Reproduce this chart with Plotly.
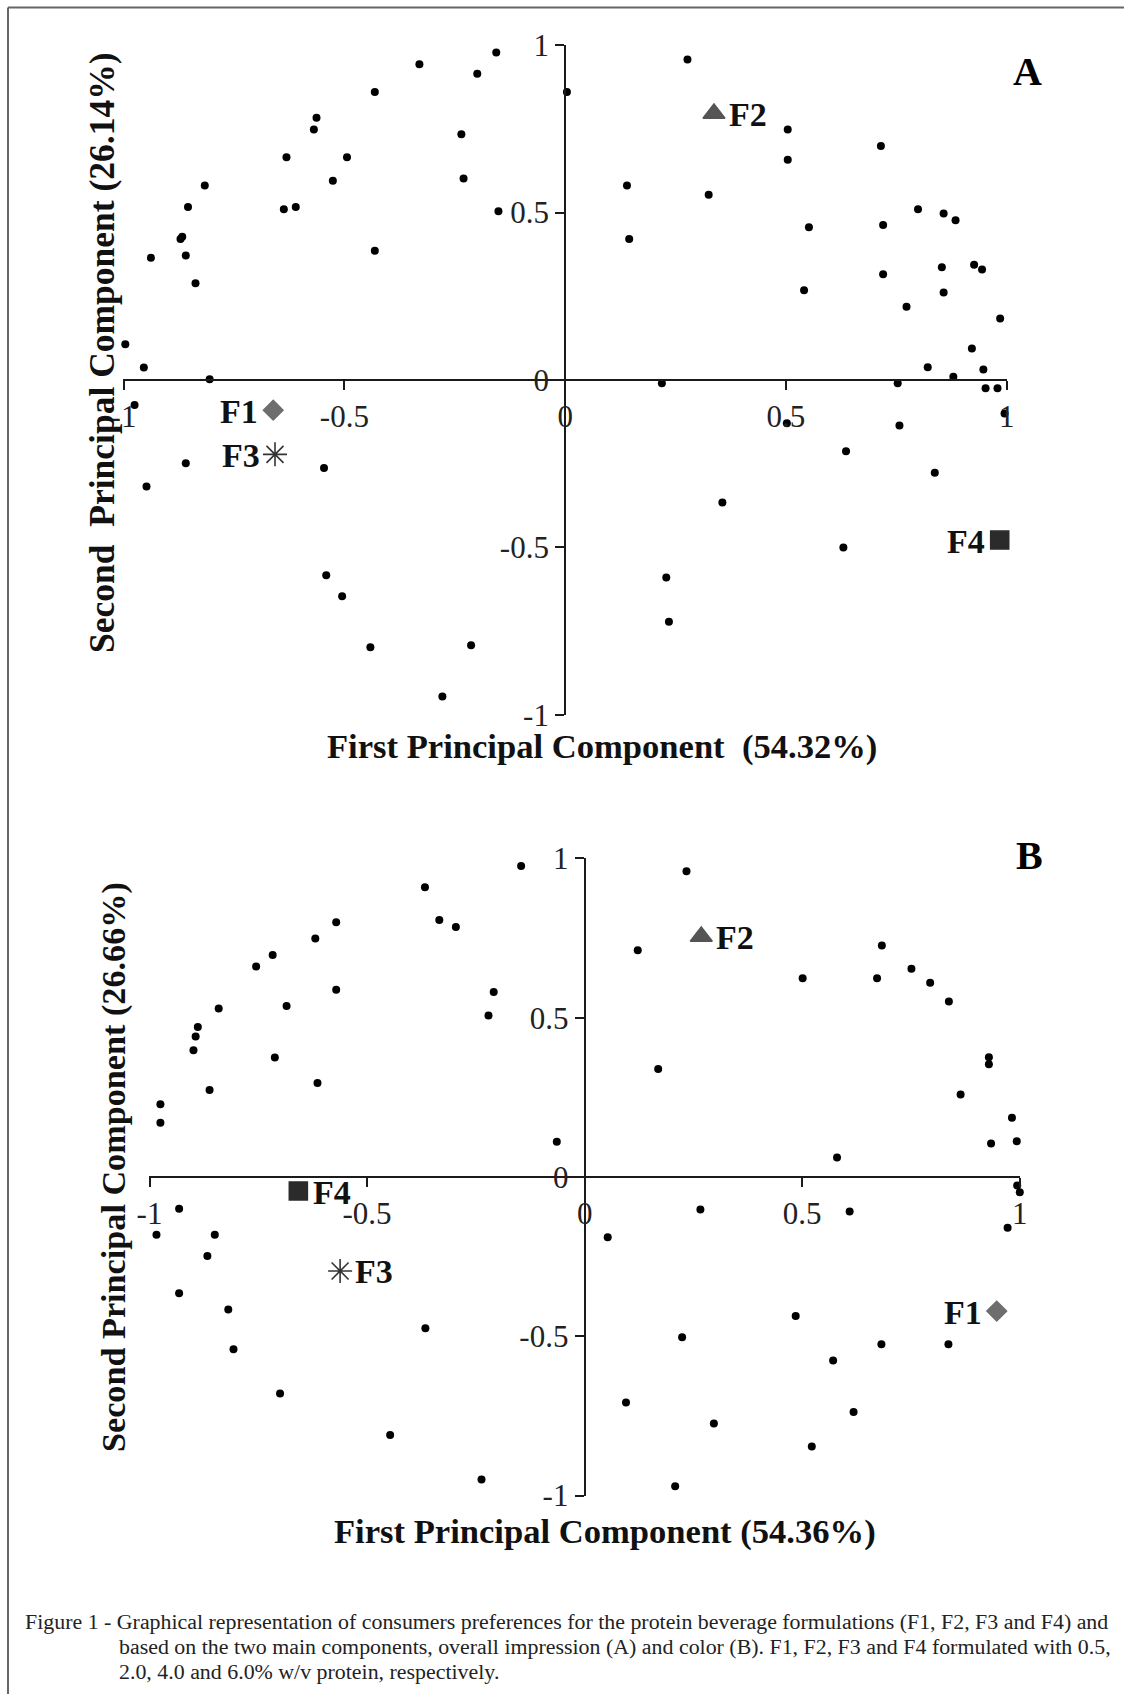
import plotly.graph_objects as go

# ---------------- Data ----------------
# Panel A: overall impression (consumer loadings)
a_x = [-0.156, -0.330, -0.199, -0.431, 0.004, -0.563, -0.569, -0.235, -0.631, -0.494,
       -0.526, -0.230, -0.816, -0.854, -0.637, -0.610, -0.151, -0.867, -0.871, -0.938,
       -0.859, -0.431, -0.837, -0.996, -0.954, -0.805, 0.277, 0.504, 0.715, 0.504,
       0.140, 0.325, 0.799, 0.857, 0.884, 0.552, 0.720, 0.145, 0.853, 0.926,
       0.944, 0.720, 0.541, 0.857, 0.773, 0.985, 0.921, 1.002, 0.821, 0.947,
       0.879, 1.002, 0.219, 0.753, 0.952, 0.979, -0.975, -0.859, -0.948, -0.546,
       -0.541, -0.505, -0.441, -0.213, -0.278, 0.502, 0.757, 0.636, 0.837, 0.356,
       0.630, 0.229, 0.235, 0.995]
a_y = [0.978, 0.943, 0.915, 0.860, 0.860, 0.783, 0.748, 0.734, 0.665, 0.665,
       0.595, 0.602, 0.581, 0.517, 0.510, 0.517, 0.504, 0.428, 0.421, 0.365,
       0.372, 0.386, 0.289, 0.107, 0.037, 0.002, 0.957, 0.748, 0.699, 0.658,
       0.581, 0.553, 0.510, 0.497, 0.477, 0.456, 0.463, 0.421, 0.337, 0.344,
       0.330, 0.316, 0.268, 0.261, 0.219, 0.184, 0.094, 0.066, 0.038, 0.031,
       0.010, 0.003, -0.010, -0.010, -0.025, -0.025, -0.075, -0.249, -0.318, -0.263,
       -0.583, -0.646, -0.798, -0.792, -0.945, -0.129, -0.136, -0.213, -0.277, -0.366,
       -0.500, -0.590, -0.722, -0.100]

# Panel B: color (consumer loadings)
b_x = [-0.146, -0.367, -0.334, -0.296, -0.571, -0.619, -0.717, -0.755, -0.571, -0.209,
       -0.685, -0.841, -0.221, -0.889, -0.894, -0.899, -0.712, -0.614, -0.862, -0.975,
       -0.975, -1.002, -0.064, 0.234, 0.122, 0.683, 0.751, 0.501, 0.672, 0.794,
       0.837, 0.169, 0.929, 0.929, 0.864, 0.982, 0.934, 0.993, 0.580, 0.994,
       1.000, -0.932, -0.984, -0.850, -0.867, -0.932, -0.819, -0.807, -0.700, -0.366,
       -0.447, -0.237, 0.266, 0.609, 0.053, 0.972, 0.485, 0.224, 0.682, 0.836,
       0.571, 0.095, 0.618, 0.297, 0.522, 0.208]
b_y = [0.976, 0.910, 0.807, 0.785, 0.800, 0.749, 0.697, 0.661, 0.588, 0.581,
       0.537, 0.529, 0.507, 0.471, 0.441, 0.398, 0.375, 0.295, 0.273, 0.228,
       0.170, 0.054, 0.111, 0.960, 0.712, 0.727, 0.654, 0.624, 0.624, 0.610,
       0.551, 0.339, 0.376, 0.354, 0.259, 0.186, 0.105, 0.112, 0.061, -0.027,
       -0.048, -0.100, -0.181, -0.181, -0.248, -0.365, -0.416, -0.541, -0.680, -0.475,
       -0.810, -0.950, -0.102, -0.108, -0.189, -0.159, -0.436, -0.503, -0.525, -0.525,
       -0.576, -0.708, -0.738, -0.774, -0.846, -0.971]

# Formulations
form_names = ["F1", "F2", "F3", "F4"]
a_form_x = [-0.661, 0.337, -0.657, 0.984]
a_form_y = [-0.090, 0.796, -0.222, -0.478]
b_form_x = [0.947, 0.268, -0.562, -0.658]
b_form_y = [-0.421, 0.755, -0.295, -0.044]

tick_vals = [-1, -0.5, 0, 0.5, 1]
tick_text = ["-1", "-0.5", "0", "0.5", "1"]

# ---------------- Styling ----------------
W, H = 1124, 1694
SERIF = "Liberation Serif, Times New Roman, serif"
form_symbols = ["diamond", "triangle-up", "asterisk-open", "square"]
form_colors = ["#6e6e6e", "#555555", "#333333", "#2b2b2b"]
form_sizes = [15, 19, 20, 18]

# pixel layout of the two panels (x=-1..1, y=-1..1)
panels = {
    "A": dict(x0=123.3, x1=1007.0, y0=45.0, y1=715.0),
    "B": dict(x0=149.3, x1=1020.0, y0=858.3, y1=1495.7),
}


def dom(p):
    xd = [p["x0"] / W, p["x1"] / W]
    yd = [1 - p["y1"] / H, 1 - p["y0"] / H]
    return xd, yd


fig = go.Figure()

axis_common = dict(
    range=[-1.0005, 1.0005], tickvals=tick_vals, ticktext=tick_text,
    showgrid=False, zeroline=False, showline=True, linecolor="#1a1a1a", linewidth=2,
    ticks="outside", ticklen=9, tickwidth=2, tickcolor="#1a1a1a",
    tickfont=dict(family=SERIF, size=31, color="#222222"), anchor="free",
    fixedrange=True, automargin=False,
)

layout_axes = {}
for i, (key, xs, ys, fx, fy) in enumerate([
    ("A", a_x, a_y, a_form_x, a_form_y),
    ("B", b_x, b_y, b_form_x, b_form_y),
]):
    n = "" if i == 0 else str(i + 1)
    xd, yd = dom(panels[key])
    layout_axes["xaxis" + n] = dict(axis_common, domain=xd, position=(yd[0] + yd[1]) / 2)
    layout_axes["yaxis" + n] = dict(axis_common, domain=yd, position=(xd[0] + xd[1]) / 2)
    xr, yr = "x" + n, "y" + n
    fig.add_trace(go.Scatter(
        x=xs, y=ys, mode="markers", xaxis=xr, yaxis=yr, cliponaxis=False,
        marker=dict(size=8, color="#000000"), showlegend=False, hoverinfo="skip"))
    for j, name in enumerate(form_names):
        fig.add_trace(go.Scatter(
            x=[fx[j]], y=[fy[j]], mode="markers", xaxis=xr, yaxis=yr, cliponaxis=False,
            marker=dict(symbol=form_symbols[j], size=form_sizes[j], color=form_colors[j],
                        line=dict(width=1.6, color=form_colors[j])),
            showlegend=False, hoverinfo="skip"))

fig.update_layout(**layout_axes)

annotations = []
# formulation labels: side of marker (-1 left, +1 right)
a_sides = [-1, 1, -1, -1]
b_sides = [-1, 1, 1, 1]
for n, fx, fy, sides in [("", a_form_x, a_form_y, a_sides), ("2", b_form_x, b_form_y, b_sides)]:
    for j, name in enumerate(form_names):
        annotations.append(dict(
            x=fx[j], y=fy[j], xref="x" + n, yref="y" + n, text="<b>%s</b>" % name,
            showarrow=False, xanchor="left" if sides[j] > 0 else "right",
            xshift=13 * sides[j], yshift=-1,
            font=dict(family=SERIF, size=34, color="#111111")))


def px(xp, yp):
    return xp / W, 1 - yp / H


for txt, (xp, yp), ang, size in [
    ("<b>Second\u00a0 Principal Component (26.14%)</b>", (102, 353), -90, 35.5),
    ("<b>First Principal Component\u00a0 (54.32%)</b>", (602, 746), 0, 34.6),
    ("<b>Second Principal Component (26.66%)</b>", (114, 1167), -90, 34.2),
    ("<b>First Principal Component (54.36%)</b>", (605, 1531), 0, 34.6),
]:
    x, y = px(xp, yp)
    annotations.append(dict(x=x, y=y, xref="paper", yref="paper", text=txt, textangle=ang,
                            showarrow=False, xanchor="center", yanchor="middle",
                            font=dict(family=SERIF, size=size, color="#111111")))

for txt, (xp, yp) in [("<b>A</b>", (1027, 72)), ("<b>B</b>", (1029, 855))]:
    x, y = px(xp, yp)
    annotations.append(dict(x=x, y=y, xref="paper", yref="paper", text=txt, showarrow=False,
                            xanchor="center", yanchor="middle",
                            font=dict(family=SERIF, size=40, color="#000000")))

caption = [
    ("Figure 1 - Graphical representation of consumers preferences for the protein beverage formulations (F1, F2, F3 and F4) and", 23, 1621),
    ("based on the two main components, overall impression (A) and color (B). F1, F2, F3 and F4 formulated with 0.5,", 117, 1646),
    ("2.0, 4.0 and 6.0% w/v protein, respectively.", 117, 1671),
]
for txt, xp, yp in caption:
    x, y = px(xp, yp)
    annotations.append(dict(x=x, y=y, xref="paper", yref="paper", text=txt, showarrow=False,
                            xanchor="left", yanchor="middle",
                            font=dict(family=SERIF, size=21.9, color="#222222")))

fig.update_layout(
    template="none",
    annotations=annotations,
    width=W, height=H, margin=dict(l=0, r=0, t=0, b=0, pad=0, autoexpand=False),
    paper_bgcolor="white", plot_bgcolor="white",
    shapes=[
        dict(type="line", xref="paper", yref="paper", x0=8 / W, x1=1, y0=1 - 7.5 / H, y1=1 - 7.5 / H,
             line=dict(color="#666666", width=2)),
        dict(type="line", xref="paper", yref="paper", x0=8 / W, x1=8 / W, y0=0, y1=1 - 7.5 / H,
             line=dict(color="#666666", width=2)),
    ],
)

fig.write_html(
    "out.html",
    config={"displayModeBar": False},
    post_script="document.documentElement.style.margin='0';document.body.style.margin='0';"
                "document.body.style.padding='0';document.documentElement.style.overflow='hidden';",
)
